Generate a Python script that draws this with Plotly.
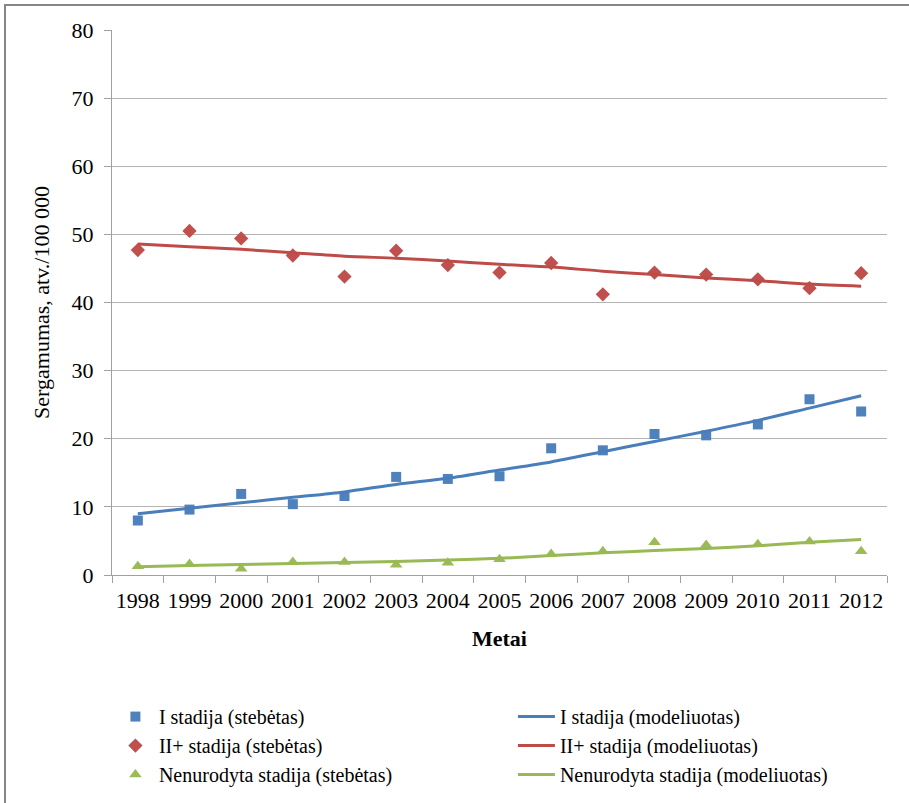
import plotly.graph_objects as go

# Years on the category axis
years = ["1998", "1999", "2000", "2001", "2002", "2003", "2004", "2005",
         "2006", "2007", "2008", "2009", "2010", "2011", "2012"]

# Observed incidence per 100 000
stage1_obs = [8.0, 9.6, 11.9, 10.4, 11.6, 14.4, 14.1, 14.5,
              18.6, 18.3, 20.7, 20.5, 22.1, 25.8, 24.0]
stage2_obs = [47.7, 50.5, 49.4, 46.9, 43.8, 47.6, 45.5, 44.4,
              45.8, 41.2, 44.4, 44.1, 43.4, 42.1, 44.3]
unknown_obs = [1.3, 1.6, 0.9, 1.9, 1.9, 1.5, 1.8, 2.3,
               3.1, 3.5, 4.8, 4.4, 4.5, 4.9, 3.5]

# Modelled incidence per 100 000
stage1_mod = [9.0, 9.8, 10.6, 11.4, 12.2, 13.3, 14.2, 15.4,
              16.6, 18.1, 19.6, 21.1, 22.7, 24.5, 26.3]
stage2_mod = [48.6, 48.2, 47.8, 47.3, 46.8, 46.5, 46.1, 45.6,
              45.2, 44.6, 44.1, 43.6, 43.2, 42.7, 42.4]
unknown_mod = [1.2, 1.4, 1.55, 1.7, 1.85, 2.0, 2.2, 2.45,
               2.85, 3.25, 3.6, 3.9, 4.3, 4.8, 5.2]

FONT = "Liberation Serif"
BLUE, RED, GREEN = "#4f81bd", "#c0504d", "#9bbb59"
BLUE_L, RED_L, GREEN_L = "#4a7ebb", "#be4b48", "#98b954"

fig = go.Figure()

series = [
    ("I stadija (stebėtas)", stage1_obs, "square", BLUE, 10,
     "I stadija (modeliuotas)", stage1_mod, BLUE_L),
    ("II+ stadija (stebėtas)", stage2_obs, "diamond", RED, 11,
     "II+ stadija (modeliuotas)", stage2_mod, RED_L),
    ("Nenurodyta stadija (stebėtas)", unknown_obs, "triangle-up", GREEN, 11,
     "Nenurodyta stadija (modeliuotas)", unknown_mod, GREEN_L),
]

for obs_name, obs, sym, col, size, mod_name, mod, lcol in series:
    fig.add_trace(go.Scatter(
        x=years, y=obs, name=obs_name, mode="markers",
        marker=dict(symbol=sym, color=col, size=size),
    ))
    fig.add_trace(go.Scatter(
        x=years, y=mod, name=mod_name, mode="lines",
        line=dict(color=lcol, width=3, shape="spline", smoothing=0.8),
    ))

# Outer chart frame
fig.add_shape(type="rect", xref="paper", yref="paper",
              x0=(5 - 112) / 775, x1=1.06, y0=-0.45, y1=(575 - 5) / 545,
              line=dict(color="#868686", width=2), fillcolor="rgba(0,0,0,0)",
              layer="below")

fig.update_layout(
    width=909, height=803,
    margin=dict(l=112, r=22, t=30, b=228, autoexpand=False),
    paper_bgcolor="white", plot_bgcolor="white",
    font=dict(family=FONT, size=22, color="black"),
    showlegend=True,
    legend=dict(
        orientation="h", x=-0.0001, xanchor="left", y=-0.224, yanchor="top",
        entrywidth=349, font=dict(family=FONT, size=20, color="black"),
        bgcolor="rgba(0,0,0,0)", tracegroupgap=0, itemwidth=37,
    ),
    xaxis=dict(
        type="category", tickson="boundaries", ticks="outside", ticklen=7,
        tickcolor="#a0a0a0", showline=True, linecolor="#a0a0a0", linewidth=1,
        showgrid=False, tickfont=dict(family=FONT, size=22), tickangle=0,
        automargin=False, ticklabelstandoff=6,
        title=dict(text="<b>Metai</b>", font=dict(family=FONT, size=22),
                   standoff=18),
        range=[-0.5, 14.5],
    ),
    yaxis=dict(
        range=[0, 80], dtick=10, ticks="outside", ticklen=7,
        tickcolor="#a0a0a0", showline=True, linecolor="#a0a0a0", linewidth=1,
        showgrid=True, gridcolor="#b4b4b4", gridwidth=1, zeroline=False,
        tickfont=dict(family=FONT, size=22), automargin=False,
        ticklabelstandoff=6,
        title=dict(text="Sergamumas, atv./100 000",
                   font=dict(family=FONT, size=22), standoff=15),
    ),
)

fig.write_html("out.html")
